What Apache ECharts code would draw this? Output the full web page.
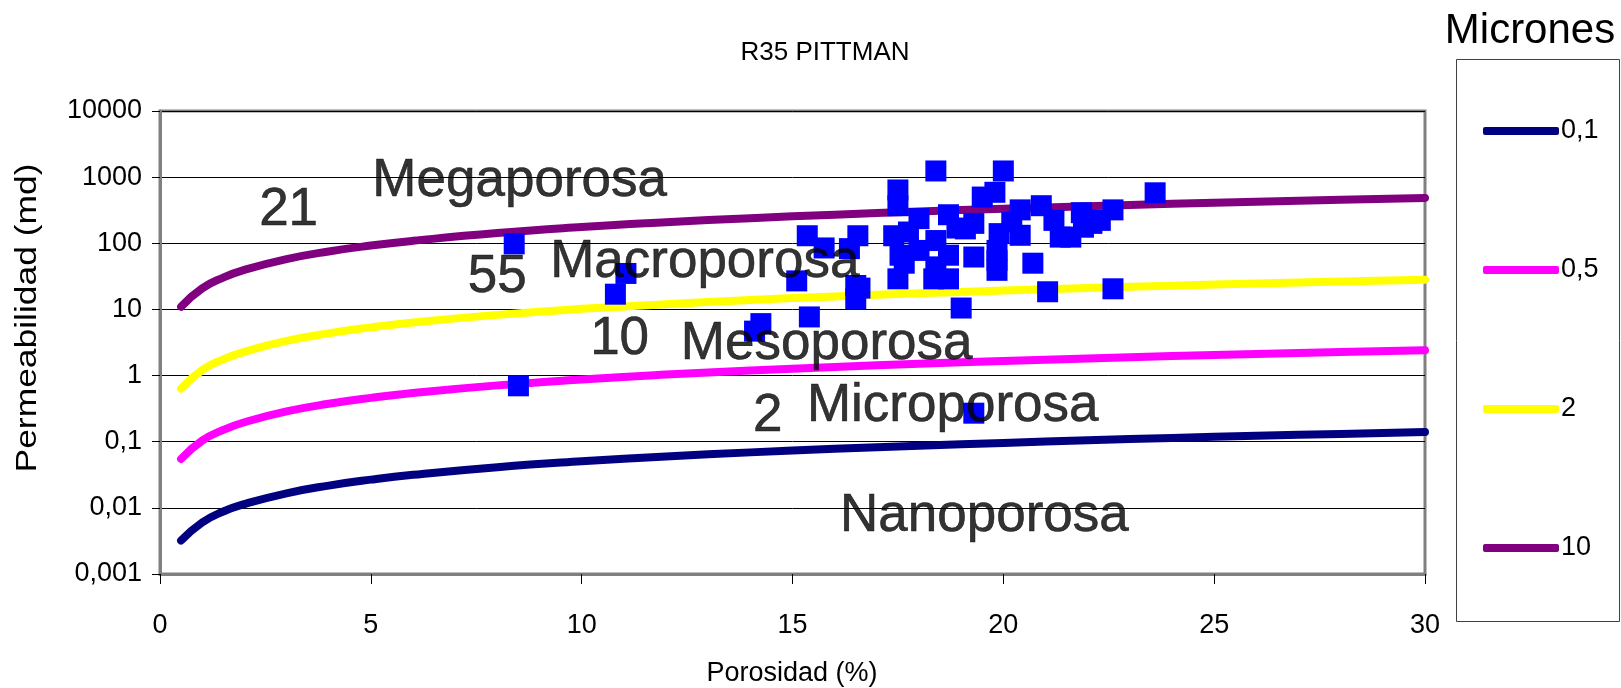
<!DOCTYPE html>
<html>
<head>
<meta charset="utf-8">
<title>R35 PITTMAN</title>
<script src="https://cdn.jsdelivr.net/npm/echarts@6/dist/echarts.min.js"></script>
<style>
  html, body { margin: 0; padding: 0; background: #fff; }
  #chart { width: 1621px; height: 688px; }
</style>
</head>
<body>
<div id="chart"></div>
<script>
// Porosity values (%) at which each R35 iso-radius curve is drawn
const porosidadCurva = [0.5, 1, 1.5, 2, 3, 4, 5, 6, 8, 10, 12, 14, 16, 18, 20, 22, 24, 26, 28, 30];

// Permeability (md) along each curve, by pore-throat radius in microns
const kRadio01 = [0.0032, 0.0060, 0.0088, 0.0114, 0.0166, 0.0217, 0.0267, 0.0316, 0.0412, 0.0506, 0.060, 0.069, 0.078, 0.087, 0.096, 0.105, 0.114, 0.123, 0.131, 0.140];
const kRadio05 = [0.055, 0.104, 0.151, 0.197, 0.287, 0.374, 0.46, 0.545, 0.711, 0.874, 1.035, 1.19, 1.35, 1.51, 1.66, 1.81, 1.97, 2.12, 2.27, 2.42];
const kRadio2  = [0.635, 1.21, 1.76, 2.29, 3.34, 4.35, 5.35, 6.34, 8.27, 10.2, 12.0, 13.9, 15.7, 17.5, 19.3, 21.1, 22.9, 24.6, 26.4, 28.1];
const kRadio10 = [11.0, 20.8, 30.3, 39.6, 57.6, 75.2, 92.4, 109, 143, 176, 208, 240, 271, 302, 333, 364, 395, 425, 455, 485];

const nombresCurvas = ['0,1', '0,5', '2', '10'];
const coloresCurvas = ['#000080', '#FF00FF', '#FFFF00', '#800080'];

// Core samples: porosity (%) and air permeability (md)
const porosidadMuestras = [
  8.4, 8.5, 10.8, 11.05,
  14.1, 14.25, 15.1, 15.4, 15.35, 15.75, 16.35, 16.55, 16.5, 16.5, 16.6,
  17.4, 17.5, 17.5, 17.55, 17.5, 17.75, 17.65, 18.0, 18.0, 18.4, 18.4, 18.4, 18.35,
  18.7, 18.7, 18.7, 18.9, 19.0, 19.1, 19.3, 19.3, 19.3, 19.5, 19.8, 19.85, 19.85,
  19.9, 19.85, 20.0, 20.2, 20.4, 20.4, 20.7, 20.9, 21.05, 21.2, 21.35, 21.6,
  21.85, 21.9, 22.1, 22.3, 22.6, 22.6, 23.6
];
const permMuestras = [
  98, 0.7, 17, 35,
  4.7, 6.1, 27, 7.7, 130, 85, 83, 130, 23, 14.5, 21,
  130, 640, 370, 66, 29, 148, 50, 236, 78, 1240, 110, 44, 29,
  270, 66, 29, 170, 10.5, 165, 0.27, 200, 62, 500, 590, 55, 78,
  140, 39, 1240, 210, 320, 132, 50, 370, 18.5, 222, 124, 124,
  290, 175, 200, 222, 320, 20.5, 580
];

// Pore-type zone labels and their positions in data coordinates
const zonaTextos = ['21', 'Megaporosa', '55', 'Macroporosa', '10', 'Mesoporosa', '2', 'Microporosa', 'Nanoporosa'];
const zonaPorosidad = [3.05, 8.53, 8.0, 12.92, 10.9, 15.81, 14.41, 18.8, 19.55];
const zonaPerm = [316, 871, 30.7, 51, 3.53, 2.98, 0.239, 0.344, 0.0075];

const ticksY = ['0,001', '0,01', '0,1', '1', '10', '100', '1000', '10000'];

const FONT = '"Liberation Sans", Arial, sans-serif';

const chart = echarts.init(document.getElementById('chart'), null, { renderer: 'canvas' });

const curvas = [kRadio01, kRadio05, kRadio2, kRadio10].map((serie, i) => ({
  name: nombresCurvas[i],
  type: 'line',
  smooth: true,
  showSymbol: false,
  symbol: 'none',
  clip: false,
  z: 2,
  data: porosidadCurva.map((p, j) => [p, serie[j]]),
  lineStyle: { color: coloresCurvas[i], width: 8, cap: 'round', join: 'round' },
  itemStyle: { color: coloresCurvas[i] },
  emphasis: { disabled: true }
}));

const option = {
  animation: false,
  backgroundColor: '#fff',
  textStyle: { fontFamily: FONT },
  grid: {
    left: 160, right: 196, top: 111, bottom: 114,
    containLabel: false, outerBoundsMode: 'none',
    show: true, borderColor: '#808080', borderWidth: 3, backgroundColor: 'transparent'
  },
  title: {
    text: 'R35 PITTMAN',
    left: 820, top: 35, textAlign: 'center',
    textStyle: { fontFamily: FONT, fontSize: 26, fontWeight: 'normal', color: '#000' }
  },
  legend: {
    data: nombresCurvas,
    orient: 'vertical',
    left: 1478, top: 112,
    itemWidth: 76, itemHeight: 8, itemGap: 111,
    icon: 'roundRect',
    textStyle: { fontFamily: FONT, fontSize: 27, color: '#000', lineHeight: 28, padding: [0, 0, 0, -3] },
    selectedMode: false
  },
  xAxis: {
    type: 'value', min: 0, max: 30, interval: 5,
    axisLine: { show: true, onZero: false, lineStyle: { color: '#808080', width: 3 } },
    axisTick: { show: true, length: 10, lineStyle: { color: '#000', width: 1 } },
    axisLabel: { margin: 38, fontFamily: FONT, fontSize: 27, color: '#000' },
    splitLine: { show: false }
  },
  yAxis: {
    type: 'log', logBase: 10, min: 0.001, max: 10000, splitNumber: 7,
    axisLine: { show: true, lineStyle: { color: '#808080', width: 3 } },
    axisTick: { show: true, length: 8, lineStyle: { color: '#000', width: 1 } },
    axisLabel: {
      margin: 18, fontFamily: FONT, fontSize: 27, color: '#000',
      formatter: v => ticksY[Math.round(Math.log10(v)) + 3]
    },
    splitLine: { show: true, lineStyle: { color: '#000', width: 1 } }
  },
  graphic: [
    {
      type: 'rect', left: 1456, top: 59, z: 0,
      shape: { width: 163, height: 562 },
      style: { fill: '#fff', stroke: '#404040', lineWidth: 1 }
    },
    {
      type: 'text', x: 1530, y: 31, z: 10,
      style: { text: 'Micrones', fontFamily: FONT, fontSize: 42, fill: '#000', textAlign: 'center', textVerticalAlign: 'middle' }
    },
    {
      // vertical axis title, slightly stretched along its length
      type: 'text', x: 28, y: 318, z: 10,
      rotation: Math.PI / 2, scaleX: 1.18, scaleY: 1,
      style: { text: 'Permeabilidad (md)', fontFamily: FONT, fontSize: 30, fill: '#000', textAlign: 'center', textVerticalAlign: 'middle' }
    },
    {
      // horizontal axis title
      type: 'text', x: 792, y: 674, z: 10,
      style: { text: 'Porosidad (%)', fontFamily: FONT, fontSize: 27, fill: '#000', textAlign: 'center', textVerticalAlign: 'middle' }
    }
  ],
  series: [
    ...curvas,
    {
      name: 'Muestras',
      type: 'scatter',
      symbol: 'rect',
      symbolSize: 21,
      z: 3,
      data: porosidadMuestras.map((p, i) => [p, permMuestras[i]]),
      itemStyle: { color: '#0000FF', opacity: 1 },
      emphasis: { disabled: true }
    },
    {
      name: 'Zonas',
      type: 'scatter',
      symbolSize: 0,
      silent: true,
      z: 5,
      data: zonaTextos.map((t, i) => ({ value: [zonaPorosidad[i], zonaPerm[i]], name: t })),
      label: {
        show: true, position: 'inside',
        formatter: p => p.name,
        fontFamily: FONT, fontSize: 53, color: '#000',
        textBorderColor: '#000', textBorderWidth: 0.6
      }
    }
  ]
};

chart.setOption(option);
</script>
</body>
</html>
